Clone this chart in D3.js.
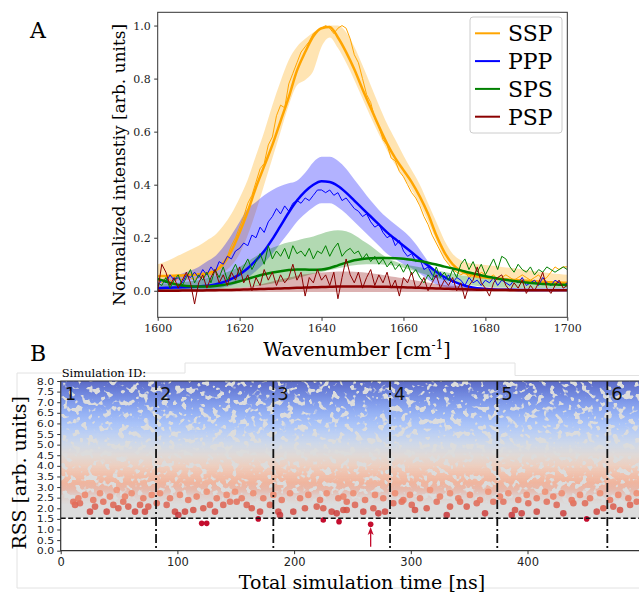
<!DOCTYPE html>
<html>
<head>
<meta charset="utf-8">
<script src="https://cdn.jsdelivr.net/npm/d3@7"></script>
<style>
  body { margin: 0; background: #fff; }
  svg { display: block; }
  .serif { font-family: "DejaVu Serif", serif; }
  .sans { font-family: "DejaVu Sans", sans-serif; }
</style>
</head>
<body>
<div class="chart"></div>
<script>
// ---------- panel A : spectra ----------
// fitted curves + confidence band, sampled every 2 cm-1
const fitWn = d3.range(1600, 1701, 2);

const sspFit = [0.055,0.056,0.057,0.058,0.06,0.062,0.066,0.075,0.10,0.15,
  0.22,0.30,0.39,0.47,0.55,0.64,0.73,0.83,0.90,0.96,
  0.99,0.995,0.955,0.90,0.835,0.76,0.69,0.62,0.555,0.50,
  0.455,0.41,0.355,0.29,0.21,0.145,0.10,0.075,0.062,0.055,
  0.05,0.047,0.044,0.042,0.04,0.038,0.036,0.034,0.032,0.031,0.03];
const sspHi = [0.10,0.11,0.125,0.14,0.155,0.17,0.19,0.21,0.245,0.29,
  0.35,0.42,0.51,0.60,0.70,0.79,0.87,0.92,0.95,0.975,
  0.995,1.0,1.0,0.975,0.92,0.85,0.775,0.70,0.63,0.57,
  0.51,0.455,0.40,0.33,0.26,0.19,0.14,0.115,0.105,0.10,
  0.097,0.094,0.09,0.087,0.083,0.078,0.074,0.07,0.066,0.063,0.06];
const sspLo = [0.035,0.036,0.038,0.04,0.042,0.045,0.05,0.055,0.068,0.095,
  0.14,0.21,0.30,0.40,0.50,0.60,0.70,0.775,0.795,0.83,
  0.92,0.955,0.915,0.86,0.795,0.725,0.655,0.59,0.53,0.475,
  0.43,0.38,0.325,0.26,0.19,0.125,0.085,0.062,0.052,0.047,
  0.044,0.041,0.039,0.037,0.035,0.033,0.031,0.029,0.028,0.026,0.025];

const pppFit = [0.01,0.011,0.012,0.013,0.014,0.016,0.019,0.024,0.032,0.045,
  0.062,0.085,0.115,0.15,0.195,0.245,0.295,0.34,0.375,0.40,
  0.413,0.41,0.395,0.37,0.34,0.31,0.28,0.25,0.22,0.195,
  0.17,0.145,0.12,0.095,0.072,0.052,0.036,0.024,0.015,0.01,
  0.007,0.005,0.004,0.004,0.003,0.003,0.003,0.003,0.003,0.003,0.003];
const pppHi = [0.04,0.048,0.056,0.065,0.076,0.09,0.11,0.13,0.165,0.21,
  0.26,0.31,0.335,0.36,0.38,0.395,0.405,0.415,0.445,0.485,
  0.505,0.505,0.49,0.46,0.42,0.38,0.34,0.305,0.275,0.25,
  0.225,0.195,0.155,0.11,0.07,0.045,0.028,0.018,0.012,0.01,
  0.009,0.008,0.007,0.007,0.006,0.006,0.006,0.005,0.005,0.005,0.005];
const pppLo = [-0.002,-0.002,-0.001,0,0,0.002,0.004,0.007,0.012,0.02,
  0.032,0.05,0.075,0.105,0.14,0.18,0.22,0.26,0.29,0.315,
  0.33,0.33,0.315,0.29,0.26,0.23,0.2,0.17,0.14,0.12,
  0.1,0.085,0.065,0.042,0.025,0.013,0.006,0.002,0,0,
  0,0,0,0,0,0,0,0,0,0,0];

const spsFit = [0.045,0.035,0.026,0.02,0.017,0.016,0.016,0.018,0.022,0.028,
  0.036,0.045,0.054,0.062,0.069,0.074,0.078,0.08,0.08,0.079,
  0.08,0.086,0.096,0.106,0.115,0.12,0.123,0.124,0.124,0.123,
  0.121,0.117,0.112,0.106,0.099,0.091,0.084,0.077,0.069,0.062,
  0.055,0.049,0.043,0.039,0.035,0.031,0.028,0.026,0.024,0.023,0.022];
const spsHi = [0.025,0.027,0.029,0.032,0.036,0.04,0.047,0.055,0.065,0.077,
  0.09,0.11,0.13,0.148,0.162,0.174,0.183,0.19,0.198,0.205,
  0.215,0.224,0.228,0.224,0.21,0.19,0.17,0.145,0.125,0.11,
  0.1,0.094,0.089,0.084,0.078,0.071,0.065,0.059,0.054,0.05,
  0.046,0.042,0.039,0.036,0.033,0.031,0.029,0.028,0.027,0.026,0.025];
const spsLo = [0,0,0.001,0.002,0.003,0.004,0.005,0.006,0.008,0.01,
  0.012,0.015,0.018,0.022,0.027,0.033,0.04,0.048,0.056,0.064,
  0.071,0.078,0.085,0.091,0.096,0.099,0.1,0.1,0.098,0.094,
  0.087,0.078,0.068,0.058,0.049,0.04,0.033,0.027,0.022,0.018,
  0.015,0.013,0.012,0.011,0.01,0.01,0.01,0.01,0.01,0.01,0.01];

const pspFit = [0,0,0,0.001,0.001,0.001,0.002,0.002,0.003,0.003,
  0.004,0.005,0.006,0.007,0.008,0.009,0.01,0.011,0.012,0.013,
  0.014,0.015,0.016,0.016,0.016,0.016,0.016,0.015,0.015,0.014,
  0.013,0.012,0.011,0.01,0.009,0.008,0.007,0.006,0.005,0.004,
  0.004,0.003,0.003,0.002,0.002,0.002,0.002,0.002,0.002,0.002,0.002];
const pspHi = [0.003,0.003,0.004,0.004,0.005,0.005,0.006,0.007,0.008,0.01,
  0.012,0.015,0.02,0.027,0.035,0.043,0.05,0.057,0.062,0.066,
  0.069,0.071,0.073,0.073,0.072,0.07,0.066,0.062,0.057,0.052,
  0.047,0.042,0.036,0.031,0.026,0.022,0.019,0.017,0.015,0.014,
  0.013,0.012,0.011,0.01,0.009,0.009,0.008,0.008,0.007,0.007,0.006];
const pspLo = [-0.003,-0.003,-0.004,-0.004,-0.004,-0.005,-0.005,-0.005,-0.005,-0.005,
  -0.005,-0.005,-0.005,-0.005,-0.005,-0.005,-0.005,-0.005,-0.005,-0.005,
  -0.005,-0.005,-0.005,-0.005,-0.005,-0.005,-0.005,-0.005,-0.005,-0.005,
  -0.005,-0.005,-0.005,-0.005,-0.005,-0.005,-0.005,-0.005,-0.005,-0.005,
  -0.004,-0.004,-0.004,-0.004,-0.004,-0.004,-0.004,-0.004,-0.004,-0.004,-0.004];

// measured (noisy) spectra, every 1 cm-1
const rawWn = d3.range(1600, 1701, 1);
const sspRaw = [0.04,0.03,0.05,0.04,0.03,0.05,0.04,0.06,0.05,0.04,
  0.06,0.05,0.07,0.06,0.08,0.09,0.11,0.13,0.17,0.20,
  0.24,0.28,0.33,0.36,0.41,0.46,0.48,0.55,0.58,0.66,
  0.70,0.69,0.78,0.82,0.86,0.90,0.92,0.94,0.97,0.98,
  0.99,1.00,0.99,0.97,0.99,1.00,0.99,0.95,0.89,0.86,
  0.80,0.74,0.71,0.65,0.62,0.57,0.55,0.50,0.49,0.45,
  0.43,0.40,0.37,0.35,0.32,0.28,0.25,0.21,0.18,0.15,
  0.12,0.10,0.08,0.07,0.06,0.07,0.05,0.06,0.05,0.07,
  0.06,0.05,0.06,0.04,0.05,0.06,0.05,0.04,0.05,0.06,
  0.05,0.04,0.05,0.06,0.04,0.05,0.07,0.09,0.08,0.09,
  0.09];
const pppRaw = [0.02,0.04,0.03,0.06,0.04,0.05,0.03,0.06,0.05,0.07,
  0.05,0.08,0.06,0.09,0.07,0.11,0.10,0.13,0.12,0.15,
  0.16,0.18,0.17,0.21,0.20,0.24,0.22,0.26,0.28,0.31,
  0.29,0.32,0.30,0.33,0.34,0.33,0.35,0.34,0.36,0.38,
  0.38,0.37,0.38,0.36,0.37,0.34,0.35,0.33,0.31,0.30,
  0.28,0.29,0.26,0.24,0.25,0.22,0.20,0.21,0.17,0.19,
  0.15,0.13,0.14,0.11,0.12,0.08,0.09,0.06,0.05,0.07,
  0.04,0.06,0.03,0.05,0.04,0.02,0.05,0.03,0.04,0.02,
  0.04,0.03,0.05,0.02,0.04,0.03,0.02,0.04,0.03,0.05,
  0.02,0.03,0.04,0.02,0.05,0.03,0.02,0.04,0.03,0.02,
  0.03];
const spsRaw = [0.03,0.02,0.05,0.01,0.04,0.06,0.02,0.05,0.08,0.03,
  0.06,0.04,0.07,0.03,0.08,0.05,0.09,0.04,0.07,0.10,
  0.06,0.09,0.12,0.08,0.11,0.14,0.10,0.17,0.12,0.15,
  0.13,0.16,0.12,0.17,0.14,0.15,0.13,0.16,0.12,0.15,
  0.14,0.17,0.13,0.16,0.18,0.13,0.15,0.16,0.14,0.15,
  0.12,0.14,0.11,0.13,0.10,0.12,0.09,0.11,0.08,0.10,
  0.07,0.10,0.06,0.08,0.05,0.03,0.06,0.04,0.09,0.05,
  0.07,0.04,0.08,0.05,0.10,0.12,0.08,0.11,0.07,0.10,
  0.06,0.09,0.12,0.08,0.13,0.12,0.09,0.07,0.10,0.08,
  0.07,0.09,0.06,0.08,0.07,0.09,0.08,0.07,0.08,0.09,
  0.08];
const pspRaw = [0.00,0.10,0.07,0.02,0.05,0.01,0.04,0.07,0.03,-0.05,
  0.03,0.06,0.01,0.05,0.08,0.03,0.06,0.02,0.07,0.04,
  0.09,0.03,0.06,0.00,0.05,0.02,0.08,0.04,0.07,0.02,
  0.06,0.03,0.05,0.10,0.04,0.07,-0.02,0.05,0.03,0.08,
  0.04,0.06,0.02,0.07,-0.03,0.05,0.12,0.06,0.03,0.07,
  0.01,0.05,0.08,0.02,0.06,0.03,0.07,0.01,0.04,-0.02,
  0.05,0.03,0.07,0.01,0.02,0.05,0.00,0.03,0.06,0.01,
  0.04,0.02,0.05,0.00,0.03,-0.03,0.02,0.04,0.09,0.03,
  0.01,-0.02,0.03,0.05,0.06,0.02,0.00,0.03,0.01,0.04,
  -0.01,0.02,0.00,0.03,0.07,0.01,-0.01,0.02,0.04,0.01,
  0.02];

const seriesNames = ["SSP", "PPP", "SPS", "PSP"];
const seriesColors = ["#ffa500", "#0000ff", "#008000", "#8b0000"];
const fits = [sspFit, pppFit, spsFit, pspFit];
const highs = [sspHi, pppHi, spsHi, pspHi];
const lows = [sspLo, pppLo, spsLo, pspLo];
const raws = [sspRaw, pppRaw, spsRaw, pspRaw];
const xTicksA = [1600, 1620, 1640, 1660, 1680, 1700];
const yTicksA = [0, 0.2, 0.4, 0.6, 0.8, 1.0];

// ---------- panel B : RSS vs simulation time ----------
const simStarts = [0, 81.7, 182.2, 282.2, 374.1, 468.4];
const simIds = ["1", "2", "3", "4", "5", "6"];
const rssThreshold = 1.53;
// coverage of the dense point cloud by RSS level
const cloudLevels = [1.53, 2.2, 2.6, 2.9, 3.2, 3.6, 4.0, 4.5, 5.0, 5.5, 6.0, 6.5, 7.0, 7.5, 8.0];
const cloudCover = [0, 0, 0.15, 0.5, 0.75, 0.82, 0.84, 0.84, 0.83, 0.82, 0.81, 0.8, 0.8, 0.8, 0.8];
// individual low-RSS points on the lower edge of the cloud
const edgeTime = [12.3,16.5,25.1,29.4,36.5,39.4,45.1,49.4,53.6,57.9,63.7,68,72.2,75.1,82.3,90.8,97.9,100.8,
  106.5,113.6,122.2,127.9,132.2,139.3,145.1,150.8,159.4,163.7,170.8,179.3,186.5,187.9,199.3,209.3,219.4,
  225,232.2,236.5,242.2,245.1,252.2,259.3,267.9,272.2,277.9,285,292.2,300.8,303.6,313.6,322.2,330.8,333.6,
  342.2,347.9,356.5,363.6,370.7,379.3,386.5,389.3,395,400.7,407.9,416.5,425,430.7,439.3,449.3,459.3,465,
  473.5,479.3,487.9,493.6,
  10.8,15.1,20.8,27.9,33.7,42.2,48,55.1,60.8,70.8,78,85.1,93.7,102.2,109.3,116.5,125.1,133.7,142.2,149.4,
  155.1,165,173.6,182.2,189.4,196.5,205.1,212.2,222.2,227.9,237.9,245.1,
  242.2,250.7,260.8,269.3,276.4,286.5,293.6,299.3,307.9,316.5,325,333.6,340.7,350.7,359.3,366.4,376.4,
  383.6,392.1,399.3,407.9,415,422.1,429.3,437.9,445,453.6,462.2,470.7,477.8,486.4,493.6];
const edgeRss = [2.16,2.24,1.84,2.08,2.31,1.84,2.16,2.0,2.31,2.08,1.84,2.16,1.84,2.08,2.24,2.16,1.84,1.68,
  1.84,1.92,2.0,2.16,1.84,2.16,2.31,2.31,2.16,2.0,1.84,2.16,1.84,1.68,1.84,2.0,2.08,
  2.0,1.84,1.76,1.92,1.92,2.16,1.84,2.0,1.76,1.84,2.24,2.31,2.16,1.92,2.0,2.31,1.68,2.08,
  2.31,2.08,2.24,1.76,2.31,2.31,1.68,1.92,1.76,2.24,1.84,2.31,2.16,1.76,2.24,2.24,1.84,2.0,
  2.08,1.92,2.16,2.31,
  2.31,2.47,2.63,2.39,2.71,2.55,2.86,2.55,2.71,2.47,2.63,2.71,2.47,2.63,2.39,2.55,2.78,2.47,2.63,2.78,
  2.47,2.71,2.47,2.63,2.39,2.71,2.47,2.63,2.39,2.71,2.47,2.31,
  2.55,2.71,2.39,2.63,2.47,2.71,2.39,2.63,2.47,2.86,2.55,2.71,2.47,2.63,2.39,2.78,2.55,
  2.71,2.39,2.63,2.47,2.78,2.55,2.71,2.39,2.63,2.47,2.71,2.39,2.63,2.47,2.71];
// points below the threshold
const bestTime = [120.8, 125.1, 169.3, 225, 238.5, 265.6, 450.7];
const bestRss = [1.29, 1.29, 1.5, 1.45, 1.37, 1.25, 1.5];
const arrowTime = 265.6, arrowFrom = 0.19, arrowTo = 1.12;
const xTicksB = [0, 100, 200, 300, 400];
const yTicksB = d3.range(0, 8.01, 0.5);
const coolwarm = ["#3b4cc0","#5977e3","#7b9ff9","#9ebeff","#c0d4f5","#dddcdc",
  "#f2cbb7","#f7ac8e","#ee8468","#d65244","#b40426"];

// ---------- drawing ----------
const W = 639, H = 592;
const svg = d3.select(".chart").append("svg")
  .attr("width", W).attr("height", H);
const defs = svg.append("defs");

// panel A scales
const xA = d3.scaleLinear().domain([1600, 1700]).range([157.7, 567.3]);
const yA = d3.scaleLinear().domain([-0.1, 1.05]).range([317.3, 12.3]);

defs.append("clipPath").attr("id", "clipA").append("rect")
  .attr("x", xA(1600)).attr("y", yA(1.05))
  .attr("width", xA(1700) - xA(1600)).attr("height", yA(-0.1) - yA(1.05));

const plotA = svg.append("g").attr("clip-path", "url(#clipA)");
const idx = fitWn.map((d, i) => i);
const ridx = rawWn.map((d, i) => i);

seriesNames.forEach((name, s) => {
  let band = d3.area()
    .x(i => xA(fitWn[i]))
    .y0(i => yA(lows[s][i]))
    .y1(i => yA(highs[s][i]))
    .curve(d3.curveMonotoneX);
  plotA.append("path")
    .attr("d", band(idx))
    .attr("fill", seriesColors[s])
    .attr("fill-opacity", 0.3);
});

seriesNames.forEach((name, s) => {
  let rawLine = d3.line()
    .x(i => xA(rawWn[i]))
    .y(i => yA(raws[s][i]));
  plotA.append("path")
    .attr("d", rawLine(ridx))
    .attr("fill", "none")
    .attr("stroke", seriesColors[s])
    .attr("stroke-width", 1)
    .attr("stroke-linejoin", "round");
  let fitLine = d3.line()
    .x(i => xA(fitWn[i]))
    .y(i => yA(fits[s][i]))
    .curve(d3.curveMonotoneX);
  plotA.append("path")
    .attr("d", fitLine(idx))
    .attr("fill", "none")
    .attr("stroke", seriesColors[s])
    .attr("stroke-width", 2.5);
});

// axes A
let xAxisA = d3.axisBottom(xA).tickValues(xTicksA).tickSize(3.5).tickPadding(3.5).tickFormat(d3.format("d"));
let yAxisA = d3.axisLeft(yA).tickValues(yTicksA).tickSize(3.5).tickPadding(3.5).tickFormat(d3.format(".1f"));
svg.append("g").attr("transform", `translate(0,${yA(-0.1)})`).call(xAxisA)
  .call(g => g.select(".domain").remove())
  .selectAll("text").attr("class", "serif").attr("font-size", 11).attr("fill", "#222");
svg.append("g").attr("transform", `translate(${xA(1600)},0)`).call(yAxisA)
  .call(g => g.select(".domain").remove())
  .selectAll("text").attr("class", "serif").attr("font-size", 11).attr("fill", "#222");
svg.selectAll(".tick line").attr("stroke", "#333");

svg.append("rect")
  .attr("x", xA(1600)).attr("y", yA(1.05))
  .attr("width", xA(1700) - xA(1600)).attr("height", yA(-0.1) - yA(1.05))
  .attr("fill", "none").attr("stroke", "#333").attr("stroke-width", 1);

svg.append("text").attr("class", "serif")
  .attr("x", 30).attr("y", 38).attr("font-size", 22).text("A");

svg.append("text").attr("class", "serif")
  .attr("transform", `translate(125,${(yA(1.05) + yA(-0.1)) / 2}) rotate(-90)`)
  .attr("text-anchor", "middle").attr("font-size", 17)
  .text("Normalized intenstiy [arb. units]");

let xlabA = svg.append("text").attr("class", "serif")
  .attr("x", 357).attr("y", 356).attr("text-anchor", "middle").attr("font-size", 19);
xlabA.append("tspan").text("Wavenumber [cm");
xlabA.append("tspan").attr("font-size", 12).attr("dy", -7).text("-1");
xlabA.append("tspan").attr("dy", 7).text("]");

// legend
let legend = svg.append("g");
legend.append("rect")
  .attr("x", 470).attr("y", 17).attr("width", 92).attr("height", 116)
  .attr("rx", 3).attr("fill", "#fff").attr("fill-opacity", 0.8)
  .attr("stroke", "#ccc");
legend.selectAll("line")
  .data(seriesNames)
  .enter()
  .append("line")
  .attr("x1", 475).attr("x2", 500)
  .attr("y1", (d, i) => 33.3 + i * 27.8)
  .attr("y2", (d, i) => 33.3 + i * 27.8)
  .attr("stroke", (d, i) => seriesColors[i])
  .attr("stroke-width", 2);
legend.selectAll("text")
  .data(seriesNames)
  .enter()
  .append("text")
  .attr("class", "serif")
  .attr("x", 508)
  .attr("y", (d, i) => 33.3 + i * 27.8 + 8)
  .attr("font-size", 22)
  .text(d => d);

// panel B scales
const xB = d3.scaleLinear().domain([0, 500]).range([60.7, 644.2]);
const yB = d3.scaleLinear().domain([0, 8]).range([550.7, 381]);
const cw = d3.scaleLinear().domain(d3.range(11).map(i => i / 10)).range(coolwarm).clamp(true);
const rssColor = v => cw(1 - (v - 1.25) / 6.75);

// faint outline around panel B
svg.append("path")
  .attr("d", "M17,588 V373 H185 V363 H515 V375.5 H639 M17,588 H639")
  .attr("fill", "none").attr("stroke", "#e2e2e2").attr("stroke-width", 1);

svg.append("text").attr("class", "serif")
  .attr("x", 30).attr("y", 361).attr("font-size", 22).text("B");

defs.append("clipPath").attr("id", "clipB").append("rect")
  .attr("x", xB(0)).attr("y", yB(8)).attr("width", W - xB(0)).attr("height", yB(0) - yB(8));

const plotB = svg.append("g").attr("clip-path", "url(#clipB)");
plotB.append("rect")
  .attr("x", xB(0)).attr("y", yB(8)).attr("width", W - xB(0)).attr("height", yB(rssThreshold) - yB(8))
  .attr("fill", "#dcdcdc");

// cloud gradient
let grad = defs.append("linearGradient").attr("id", "cloudGrad")
  .attr("gradientUnits", "userSpaceOnUse")
  .attr("x1", 0).attr("x2", 0).attr("y1", yB(rssThreshold)).attr("y2", yB(8));
cloudLevels.forEach((lv, i) => {
  grad.append("stop")
    .attr("offset", (lv - rssThreshold) / (8 - rssThreshold))
    .attr("stop-color", rssColor(lv))
    .attr("stop-opacity", cloudCover[i]);
});
let holes = defs.append("filter").attr("id", "holes")
  .attr("filterUnits", "userSpaceOnUse")
  .attr("x", xB(0)).attr("y", yB(8)).attr("width", W).attr("height", yB(0) - yB(8));
holes.append("feTurbulence").attr("type", "fractalNoise")
  .attr("baseFrequency", 0.16).attr("numOctaves", 2).attr("seed", 7).attr("result", "noise");
holes.append("feColorMatrix").attr("in", "noise").attr("type", "matrix")
  .attr("values", "0 0 0 0 0  0 0 0 0 0  0 0 0 0 0  12 0 0 0 -4.35").attr("result", "mask");
holes.append("feComposite").attr("in", "SourceGraphic").attr("in2", "mask").attr("operator", "in");

plotB.append("rect")
  .attr("x", xB(0)).attr("y", yB(8)).attr("width", W - xB(0)).attr("height", yB(rssThreshold) - yB(8))
  .attr("fill", "url(#cloudGrad)")
  .attr("filter", "url(#holes)");

plotB.selectAll("circle.edge")
  .data(edgeTime)
  .enter()
  .append("circle")
  .attr("class", "edge")
  .attr("cx", d => xB(d))
  .attr("cy", (d, i) => yB(edgeRss[i]))
  .attr("r", 3.3)
  .attr("fill", (d, i) => rssColor(edgeRss[i]))
  .attr("fill-opacity", 0.85);

plotB.selectAll("circle.best")
  .data(bestTime)
  .enter()
  .append("circle")
  .attr("class", "best")
  .attr("cx", d => xB(d))
  .attr("cy", (d, i) => yB(bestRss[i]))
  .attr("r", 2.8)
  .attr("fill", "#c40d2e");

// arrow to the best point
plotB.append("line")
  .attr("x1", xB(arrowTime)).attr("x2", xB(arrowTime))
  .attr("y1", yB(arrowFrom)).attr("y2", yB(arrowTo) + 4)
  .attr("stroke", "#c40d2e").attr("stroke-width", 1.3);
plotB.append("path")
  .attr("d", `M${xB(arrowTime)},${yB(arrowTo)} l-3,8 l3,-2 l3,2 Z`)
  .attr("fill", "#c40d2e");

// threshold and simulation boundaries
plotB.append("line")
  .attr("x1", xB(0)).attr("x2", W)
  .attr("y1", yB(rssThreshold)).attr("y2", yB(rssThreshold))
  .attr("stroke", "#111").attr("stroke-width", 1.5).attr("stroke-dasharray", "5,2.5");
plotB.selectAll("line.sim")
  .data(simStarts.slice(1))
  .enter()
  .append("line")
  .attr("class", "sim")
  .attr("x1", d => xB(d)).attr("x2", d => xB(d))
  .attr("y1", yB(8)).attr("y2", yB(0))
  .attr("stroke", "#111").attr("stroke-width", 1.8)
  .attr("stroke-dasharray", "9,3,2,3");
plotB.selectAll("text.sim")
  .data(simIds)
  .enter()
  .append("text")
  .attr("class", "sans")
  .attr("x", (d, i) => xB(simStarts[i]) + 4)
  .attr("y", 400)
  .attr("font-size", 18)
  .attr("fill", "#111")
  .text(d => d);

// axes B
let xAxisB = d3.axisBottom(xB).tickValues(xTicksB).tickSize(3.5).tickPadding(3.5).tickFormat(d3.format("d"));
let yAxisB = d3.axisLeft(yB).tickValues(yTicksB).tickSize(3.5).tickPadding(3).tickFormat(d3.format(".1f"));
let gxB = svg.append("g").attr("transform", `translate(0,${yB(0)})`).call(xAxisB);
gxB.select(".domain").remove();
gxB.selectAll("text").attr("class", "sans").attr("font-size", 11.5).attr("fill", "#222");
let gyB = svg.append("g").attr("transform", `translate(${xB(0)},0)`).call(yAxisB);
gyB.select(".domain").remove();
gyB.selectAll("text").attr("class", "sans").attr("font-size", 11).attr("fill", "#222")
  .attr("transform", "scale(1,0.85)");
svg.selectAll(".tick line").attr("stroke", "#333");

svg.append("path")
  .attr("d", `M${W},${yB(8)} H${xB(0)} V${yB(0)} H${W}`)
  .attr("fill", "none").attr("stroke", "#333").attr("stroke-width", 1.2);

svg.append("text").attr("class", "serif")
  .attr("x", xB(0) + 1).attr("y", 377).attr("font-size", 11.5).text("Simulation ID:");

svg.append("text").attr("class", "serif")
  .attr("transform", `translate(26,${(yB(0) + yB(8)) / 2 + 7}) rotate(-90)`)
  .attr("text-anchor", "middle").attr("font-size", 19)
  .text("RSS [arb. units]");

svg.append("text").attr("class", "serif")
  .attr("x", 362).attr("y", 589).attr("text-anchor", "middle").attr("font-size", 19)
  .text("Total simulation time [ns]");
</script>
</body>
</html>
